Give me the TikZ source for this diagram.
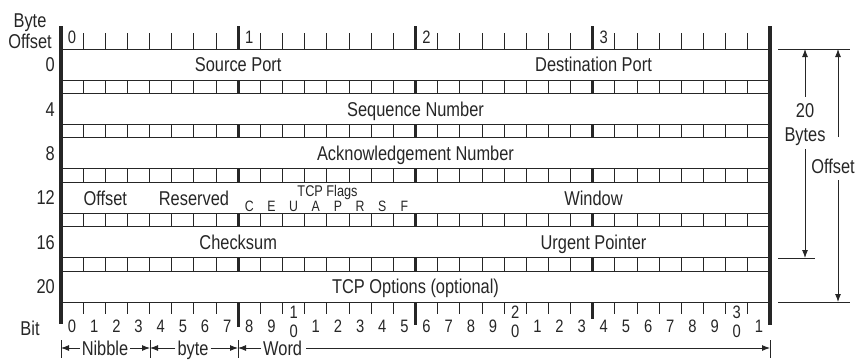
\documentclass[tikz,border=0pt]{standalone}
\usepackage{fontspec}
\setmainfont{Liberation Sans}[FakeStretch=0.82]
\usetikzlibrary{arrows.meta}
\begin{document}
\begin{tikzpicture}[x=1pt,y=-1pt,
  rule/.style={draw=black!85, line width=0.9pt},
  tickthin/.style={draw=black!85, line width=0.9pt},
  tickbyte/.style={draw=black!85, line width=2.6pt},
  bar/.style={draw=black!85, line width=3.6pt},
  txt/.style={inner sep=0pt, anchor=base, text=black!85, font=\fontsize{20}{22}\selectfont},
  num/.style={inner sep=0pt, anchor=base, text=black!85, font=\fontsize{18}{20}\selectfont},
  flagtxt/.style={inner sep=0pt, anchor=base, text=black!85, font=\fontsize{15.5}{17}\selectfont},
  flagltr/.style={inner sep=0pt, anchor=base, text=black!85, font=\fontsize{15}{17}\selectfont},
  dim/.style={draw=black!85, line width=0.9pt, -{Latex[length=8pt,width=6pt]}},
]
\useasboundingbox (0,0) rectangle (858,359);

% ---------- horizontal rules of the table ----------
\draw[rule] (61,49) -- (770,49);
\foreach \k in {0,...,4} {
  \pgfmathsetmacro\ya{80+44.4*\k}
  \pgfmathsetmacro\yb{\ya+13.4}
  \draw[rule] (61,\ya) -- (770,\ya);
  \draw[rule] (61,\yb) -- (770,\yb);
  \foreach \i in {1,...,7,9,10,...,15,17,18,...,23,25,26,...,31}
    \draw[tickthin] ({61+22.156*\i},\ya) -- ({61+22.156*\i},\yb);
  \foreach \i in {8,16,24}
    \draw[tickbyte] ({61+22.156*\i},\ya) -- ({61+22.156*\i},\yb);
}
\draw[rule] (61,302) -- (770,302);

% ---------- top ruler ----------
\foreach \i in {1,...,7,9,10,...,15,17,18,...,23,25,26,...,31}
  \draw[tickthin] ({61+22.156*\i},33) -- ({61+22.156*\i},49);
\foreach \i in {8,16,24}
  \draw[tickbyte] ({61+22.156*\i},26) -- ({61+22.156*\i},49);
\foreach \b in {0,1,2,3}
  \node[num] (byte\b) at ({61+22.156*(8*\b+0.5)},43.5) {\b};

% ---------- bottom ruler ----------
\foreach \i in {1,...,7,9,10,...,15,17,18,...,23,25,26,...,31}
  \draw[tickthin] ({61+22.156*\i},302) -- ({61+22.156*\i},314);
\draw[tickbyte] ({61+22.156*8},302) -- ({61+22.156*8},327);
\draw[tickbyte] ({61+22.156*16},302) -- ({61+22.156*16},325);
\draw[tickbyte] ({61+22.156*24},302) -- ({61+22.156*24},319);
\foreach \i in {0,...,9,11,12,...,19,21,22,...,29,31} {
  \pgfmathtruncatemacro\d{mod(\i,10)}
  \node[num] (bit\i) at ({61+22.156*(\i+0.5)},332) {\d};
}
\foreach \i/\t in {10/1,20/2,30/3} {
  \node[num] (bit\i a) at ({61+22.156*(\i+0.5)},318.5) {\t};
  \node[num] (bit\i b) at ({61+22.156*(\i+0.5)},337.3) {0};
}

% ---------- side bars ----------
\draw[bar] (61,26) -- (61,324);
\draw[bar] (770,26) -- (770,325);

% ---------- left labels ----------
\node[txt] (lbyte) at (30,27) {Byte};
\node[txt] (loffset) at (30,48.5) {Offset};
\node[txt] (lbit) at (30,335) {Bit};
\foreach \n/\y in {0/71.7,4/116.1,8/160.5,12/204.9,16/249.3,20/293.7}
  \node[txt, anchor=base east] (o\n) at (55,\y) {\n};

% ---------- field texts ----------
\node[txt] (srcport) at (238.2,71.7) {Source Port};
\node[txt] (dstport) at (593.5,71.7) {Destination Port};
\node[txt] (seq) at (415.5,116.1) {Sequence Number};
\node[txt] (ack) at (415.5,160.5) {Acknowledgement Number};
\node[txt] (offs) at (105.3,205) {Offset};
\node[txt] (resv) at (194,205) {Reserved};
\node[flagtxt] (flags) at (327.5,196.5) {TCP Flags};
\foreach \l [count=\j from 8] in {C,E,U,A,P,R,S,F}
  \node[flagltr] (flag\l) at ({61+22.156*(\j+0.5)},211.8) {\l};
\node[txt] (win) at (593.5,205) {Window};
\node[txt] (chk) at (238.2,249.3) {Checksum};
\node[txt] (urg) at (593.5,249.3) {Urgent Pointer};
\node[txt] (opt) at (415.5,293.7) {TCP Options (optional)};

% ---------- right dimensions ----------
\draw[rule] (778,49) -- (850,49);
\draw[rule] (778,258) -- (815,258);
\draw[rule] (778,302) -- (850,302);
\coordinate (r20top) at (805,49);
\coordinate (r20bot) at (805,258);
\coordinate (roffT) at (838,49);
\coordinate (roffB) at (838,302);
\coordinate (offA) at (838,137);
\coordinate (offB) at (838,180);
\node[txt] (n20) at (805,117) {20};
\node[txt] (nbytes) at (805,141.5) {Bytes};
\node[txt] (noff) at (833,173.5) {Offset};
\draw[dim] ([yshift=6pt]n20.north) -- (r20top);
\draw[dim] ([yshift=-3pt]nbytes.south) -- (r20bot);
\draw[dim] (offA) -- (roffT);
\draw[dim] (offB) -- (roffB);

% ---------- bottom dimensions ----------
\coordinate (d0) at (61,348);
\coordinate (d4) at (150,348);
\coordinate (d8) at (238,348);
\coordinate (d32) at (770,348);
\foreach \x in {61,150,238,770}
  \draw[rule] (\x,340) -- (\x,358);
\node[txt] (nib) at (105,355.5) {Nibble};
\node[txt] (byt) at (193,355.5) {byte};
\node[txt, anchor=base west] (wrd) at (263,355.8) {Word};
\draw[dim, shorten <=2pt] (nib.west |- d0) -- (d0);
\draw[dim, shorten <=2pt] (nib.east |- d0) -- (d4);
\draw[dim, shorten <=2pt] (byt.west |- d0) -- (d4);
\draw[dim, shorten <=2pt] (byt.east |- d0) -- (d8);
\draw[dim, shorten <=2pt] (wrd.west |- d0) -- (d8);
\draw[dim, shorten <=4pt] (wrd.east |- d0) -- (d32);
\end{tikzpicture}
\end{document}
